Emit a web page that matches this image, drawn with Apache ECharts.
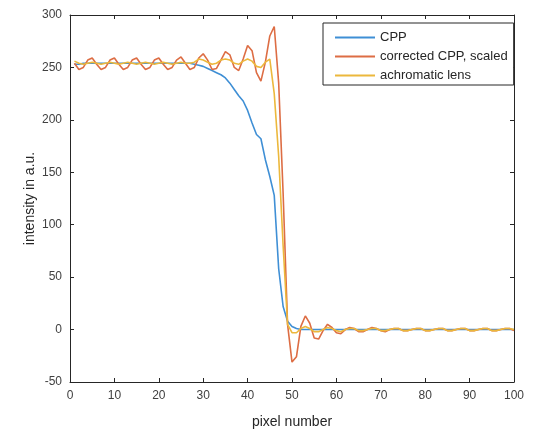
<!DOCTYPE html>
<html>
<head>
<meta charset="utf-8">
<script src="https://cdn.jsdelivr.net/npm/echarts@6/dist/echarts.min.js"></script>
<style>
  html, body { margin: 0; padding: 0; background: #fff; }
  #chart { width: 533px; height: 434px; }
</style>
</head>
<body>
<div id="chart"></div>
<script>
// pixel positions 1..100
var pixels = [];
for (var i = 1; i <= 100; i++) pixels.push(i);

var seriesNames = ['CPP', 'corrected CPP, scaled', 'achromatic lens'];

// CPP
var cpp = [
  253, 253, 254, 254, 254, 254, 254, 254, 254, 254,
  254, 254, 254, 254, 254, 254, 254, 254, 254, 254,
  254, 254, 254, 254, 254, 254, 254, 253, 252, 251,
  249, 247, 245, 243, 240, 235, 229, 223, 218, 209,
  197, 186, 182, 162, 146, 128, 58, 22, 8, 3,
  1, 0, 0, 0, 0, 0, 0, 0, 0, 0,
  0, 0, 0, 0, 0, 0, 0, 0, 0, 0,
  0, 0, 0, 0, 0, 0, 0, 0, 0, 0,
  0, 0, 0, 0, 0, 0, 0, 0, 0, 0,
  0, 0, 0, 0, 0, 0, 0, 0, 0, 0
];

// corrected CPP, scaled
var corrected = [
  254, 248, 250, 257, 259, 253, 248, 250, 257, 259,
  253, 248, 250, 257, 259, 253, 248, 250, 257, 259,
  253, 248, 250, 257, 260, 254, 248, 250, 259, 263,
  257, 248, 249, 257, 265, 262, 250, 247, 258, 271,
  266, 245, 237, 255, 280, 289, 235, 130, 5, -31,
  -26, 3, 13, 6, -8, -9, -1, 5, 2, -3,
  -4, 0, 2, 1, -2, -2, 0, 2, 1, -1,
  -2, 0, 1, 1, -1, -1, 0, 1, 1, -1,
  -1, 0, 1, 1, -1, -1, 0, 1, 1, -1,
  -1, 0, 1, 1, -1, -1, 0, 1, 1, -1
];

// achromatic lens
var achromatic = [
  256, 254, 253, 254, 255, 254, 253, 254, 255, 254,
  253, 254, 255, 254, 253, 254, 255, 254, 253, 254,
  255, 254, 253, 254, 255, 254, 254, 255, 258, 257,
  255, 253, 254, 257, 258, 257, 254, 253, 256, 258,
  256, 251, 250, 255, 258, 225, 165, 80, 5, -3,
  -3, 1, 3, 1, -2, -2, 0, 2, 1, -1,
  -2, 0, 1, 1, -1, -1, 0, 1, 1, -1,
  -1, 0, 1, 1, -1, -1, 0, 1, 1, -1,
  -1, 0, 1, 1, -1, -1, 0, 1, 1, -1,
  -1, 0, 1, 1, -1, -1, 0, 1, 1, 0
];

var colors = ['#3f8fd5', '#dd6d44', '#ecb83c'];

function pairs(ys) {
  return pixels.map(function (x, k) { return [x, ys[k]]; });
}

var chart = echarts.init(document.getElementById('chart'));

var axisLineStyle = { color: '#262626', width: 1 };
var labelStyle = { color: '#404040', fontSize: 12, fontFamily: 'Liberation Sans' };

var option = {
  animation: false,
  backgroundColor: '#fff',
  color: colors,
  grid: { left: 70, right: 19, top: 15, bottom: 50 },
  legend: {
    orient: 'vertical',
    left: 323,
    top: 23,
    padding: [7, 6, 2, 12],
    itemGap: 4,
    itemWidth: 40,
    itemHeight: 2,
    icon: 'rect',
    borderColor: '#262626',
    borderWidth: 1,
    backgroundColor: '#fff',
    textStyle: { color: '#262626', fontSize: 13, fontFamily: 'Liberation Sans', lineHeight: 15 },
    data: seriesNames
  },
  xAxis: [{
    type: 'value',
    min: 0, max: 100, interval: 10,
    name: 'pixel number',
    nameLocation: 'middle',
    nameGap: 33,
    nameMoveOverlap: false,
    nameTextStyle: { color: '#262626', fontSize: 14, fontFamily: 'Liberation Sans' },
    axisLine: { onZero: false, lineStyle: axisLineStyle },
    axisTick: { inside: true, length: 4, lineStyle: axisLineStyle },
    axisLabel: labelStyle,
    splitLine: { show: false }
  }, {
    type: 'value',
    position: 'top',
    min: 0, max: 100, interval: 10,
    axisLine: { onZero: false, lineStyle: axisLineStyle },
    axisTick: { inside: true, length: 4, lineStyle: axisLineStyle },
    axisLabel: { show: false },
    splitLine: { show: false }
  }],
  yAxis: [{
    type: 'value',
    min: -50, max: 300, interval: 50,
    name: 'intensity in a.u.',
    nameLocation: 'middle',
    nameGap: 33,
    nameMoveOverlap: false,
    nameTextStyle: { color: '#262626', fontSize: 14, fontFamily: 'Liberation Sans' },
    axisLine: { show: true, onZero: false, lineStyle: axisLineStyle },
    axisTick: { show: true, inside: true, length: 4, lineStyle: axisLineStyle },
    axisLabel: labelStyle,
    splitLine: { show: false }
  }, {
    type: 'value',
    position: 'right',
    min: -50, max: 300, interval: 50,
    axisLine: { show: true, onZero: false, lineStyle: axisLineStyle },
    axisTick: { show: true, inside: true, length: 4, lineStyle: axisLineStyle },
    axisLabel: { show: false },
    splitLine: { show: false }
  }],
  series: [
    { name: seriesNames[0], type: 'line', data: pairs(cpp), symbol: 'none', lineStyle: { width: 1.6 } },
    { name: seriesNames[1], type: 'line', data: pairs(corrected), symbol: 'none', lineStyle: { width: 1.6 } },
    { name: seriesNames[2], type: 'line', data: pairs(achromatic), symbol: 'none', lineStyle: { width: 1.6 } }
  ]
};

chart.setOption(option);
</script>
</body>
</html>
